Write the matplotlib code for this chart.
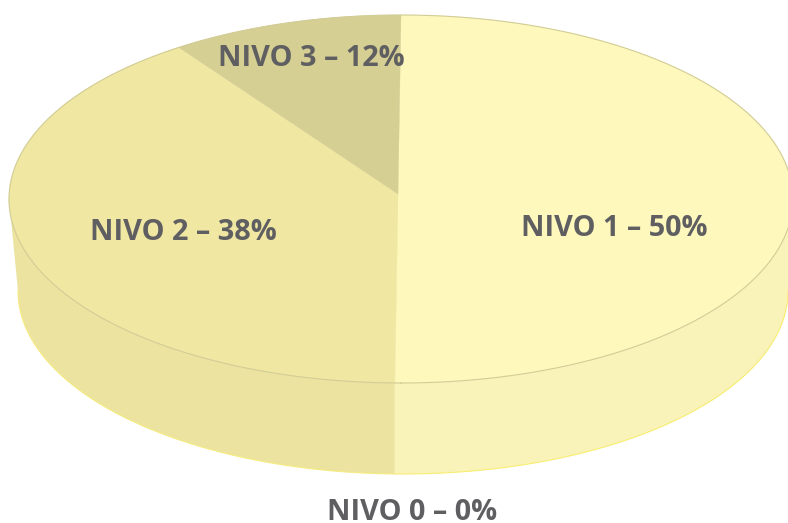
import numpy as np
import matplotlib
matplotlib.use('Agg')
import matplotlib.pyplot as plt
from matplotlib.patches import Polygon

levels = ['NIVO 1', 'NIVO 2', 'NIVO 3', 'NIVO 0']
percents = [50, 38, 12, 0]

top_colors = ['#fef8bd', '#f0e7a2', '#d6cf94', '#ffffff']
label_pos = [(614, 228), (183, 232), (311, 59), (412, 513)]

# pie geometry in picture pixels
cx, cy, rx, ry = 401, 199, 392, 184
apex = (398, 194)
bx, by, brx, bry = 403, 291, 385, 183


def rim(theta):
    # ray from the apex to the top ellipse, theta clockwise from 12 o'clock
    dx = 1.61 * np.sin(theta) + 0.0168 * np.cos(theta)
    dy = -np.cos(theta)
    ox = (apex[0] - cx) / rx
    oy = (apex[1] - cy) / ry
    ux = dx / rx
    uy = dy / ry
    a = ux ** 2 + uy ** 2
    b = 2 * (ox * ux + oy * uy)
    c = ox ** 2 + oy ** 2 - 1
    s = (-b + np.sqrt(b ** 2 - 4 * a * c)) / (2 * a)
    return apex[0] + s * dx, apex[1] + s * dy


fig = plt.figure(figsize=(7.88, 5.23), dpi=100)
ax = fig.add_axes([0, 0, 1, 1])
ax.set_xlim(0, 788)
ax.set_ylim(523, 0)
ax.axis('off')

# side wall, split at the bottom of the first slice
split_x = rim(np.pi)[0]
t_split = np.arcsin((split_x - cx) / rx)
b_split = np.arcsin((split_x - bx) / brx)

t = np.linspace(-np.pi / 2, t_split, 200)
b = np.linspace(b_split, -np.pi / 2, 200)
left_side = np.r_[np.c_[cx + rx * np.sin(t), cy + ry * np.cos(t)],
                  np.c_[bx + brx * np.sin(b), by + bry * np.cos(b)]]
ax.add_patch(Polygon(left_side, closed=True, fc='#ece3a0', ec='none', zorder=1))
ax.plot(bx + brx * np.sin(b), by + bry * np.cos(b), color='#f5ec80', lw=0.8, zorder=1)

t = np.linspace(t_split, np.pi / 2, 200)
b = np.linspace(np.pi / 2, b_split, 200)
right_side = np.r_[np.c_[cx + rx * np.sin(t), cy + ry * np.cos(t)],
                   np.c_[bx + brx * np.sin(b), by + bry * np.cos(b)]]
ax.add_patch(Polygon(right_side, closed=True, fc='#f9f2b9', ec='none', zorder=1))
ax.plot(bx + brx * np.sin(b), by + bry * np.cos(b), color='#f8ee70', lw=0.8, zorder=1)

# top face slices
start = 0.0
for pct, col in zip(percents, top_colors):
    if pct == 0:
        continue
    th = np.linspace(start, start + 2 * np.pi * pct / 100, 400)
    xs, ys = rim(th)
    pts = np.r_[[apex], np.c_[xs, ys]]
    ax.add_patch(Polygon(pts, closed=True, fc=col, ec=col, lw=0.3, zorder=2))
    start += 2 * np.pi * pct / 100

t = np.linspace(0, 2 * np.pi, 600)
ax.plot(cx + rx * np.sin(t), cy + ry * np.cos(t), color='#d2cc96', lw=0.8, zorder=3)

for name, pct, pos in zip(levels, percents, label_pos):
    ax.text(pos[0], pos[1], f'{name} – {pct}%', ha='center', va='center',
            family='Open Sans', fontweight='bold', fontsize=20.8, color='#5f5f62', zorder=4)

fig.savefig('out.png', dpi=100)
